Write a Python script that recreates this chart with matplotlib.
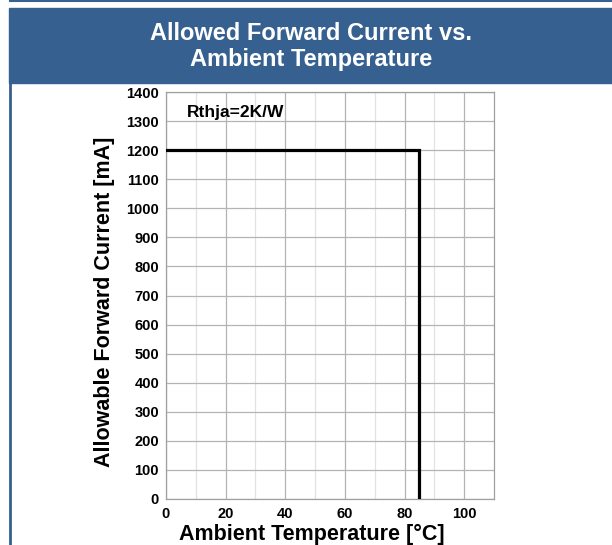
import matplotlib
matplotlib.use("Agg")
import matplotlib.pyplot as plt
from matplotlib.patches import Rectangle
from matplotlib.lines import Line2D

plt.rcParams['font.family'] = ['Liberation Sans', 'DejaVu Sans']

# derating curve
temp = [0, 85, 85]
current = [1200, 1200, 0]
x_ticks = [0, 20, 40, 60, 80, 100]
y_ticks = list(range(0, 1401, 100))

blue = '#35608f'

fig = plt.figure(figsize=(6.12, 5.45), dpi=100)

# header band and frame
fig.patches.append(Rectangle((9 / 612, 1 - 83 / 545), 1, 75 / 545,
                             transform=fig.transFigure, color=blue, zorder=0))
fig.lines.append(Line2D([10 / 612, 1], [1 - 0.8 / 545] * 2, transform=fig.transFigure,
                        color=blue, lw=1.5))
fig.lines.append(Line2D([10 / 612] * 2, [0, 1 - 83 / 545], transform=fig.transFigure,
                        color=blue, lw=2))
fig.text(311 / 612, 1 - 46.5 / 545, "Allowed Forward Current vs.\nAmbient Temperature",
         ha='center', va='center', color='white', fontsize=17, fontweight='bold',
         linespacing=1.15)

ax = fig.add_axes([166 / 612, 1 - 499 / 545, 328 / 612, 407 / 545])
ax.plot(temp, current, color='black', lw=2.3, solid_joinstyle='miter', zorder=3)

ax.set_xlim(0, 110)
ax.set_ylim(0, 1400)
ax.set_xticks(x_ticks)
ax.set_xticks(range(10, 110, 20), minor=True)
ax.set_yticks(y_ticks)
ax.grid(which='major', color='#b4b4b4', lw=0.9)
ax.grid(which='minor', axis='x', color='#e2e2e2', lw=0.9)
ax.tick_params(which='both', length=0, labelsize=10.5)
ax.tick_params(axis='x', pad=6)
ax.tick_params(axis='y', pad=5)
for lbl in ax.get_xticklabels() + ax.get_yticklabels():
    lbl.set_fontweight('bold')
for s in ax.spines.values():
    s.set_color('#a0a0a0')
    s.set_linewidth(0.9)

ax.set_xlabel("Ambient Temperature [°C]", fontsize=15.5, fontweight='bold')
ax.set_ylabel("Allowable Forward Current [mA]", fontsize=15.5, fontweight='bold')
ax.xaxis.set_label_coords(0.444, -0.061)
ax.yaxis.set_label_coords(-0.154, 0.484)
ax.text(7, 1331, "Rthja=2K/W", fontsize=12.5, fontweight='bold', va='center')

fig.savefig("out.png", dpi=100)
